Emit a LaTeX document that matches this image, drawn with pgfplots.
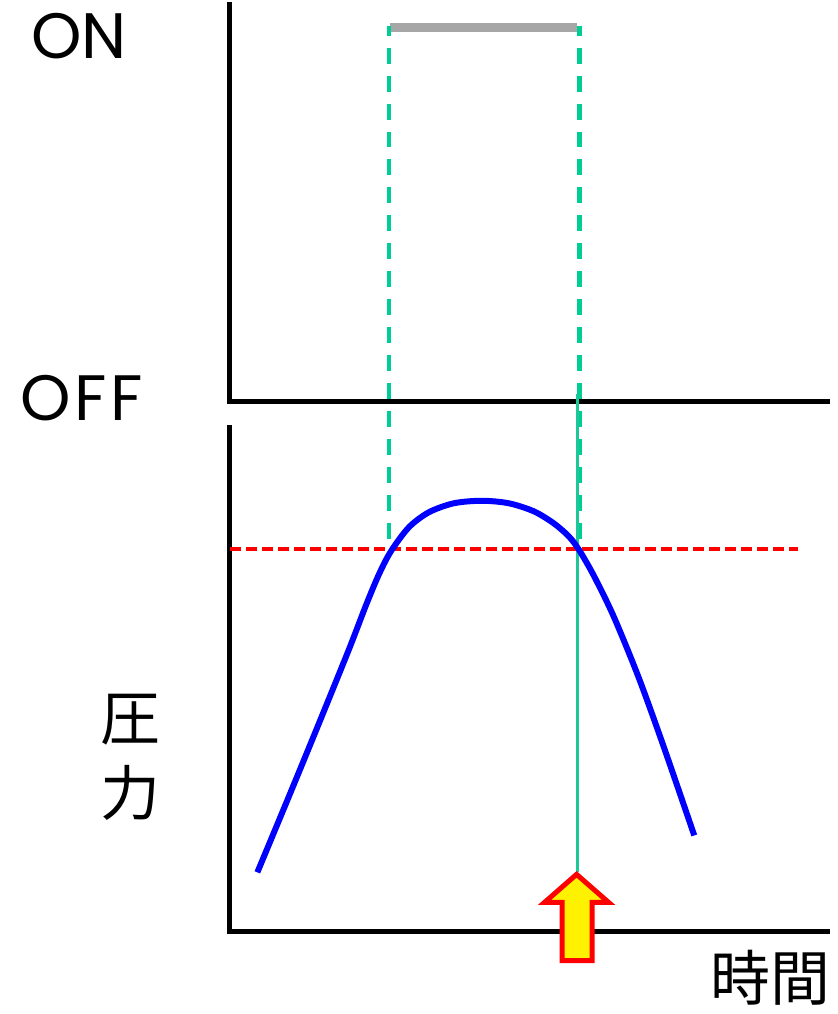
\documentclass[border=0pt]{standalone}
\usepackage{fontspec}
\setmainfont{Poppins}
\newfontfamily\widefont[LetterSpace=6]{Poppins}
\newfontfamily\cjk{Noto Sans CJK JP}
\usepackage{pgfplots}
\pgfplotsset{compat=1.18}
\definecolor{grn}{RGB}{0,205,150}
\definecolor{grnthin}{RGB}{30,200,150}
\definecolor{gry}{RGB}{166,166,166}
\begin{document}
\begin{tikzpicture}
\begin{axis}[hide axis, scale only axis, width=252pt, height=304.2pt,
  xmin=0, xmax=840, ymin=0, ymax=1014, y dir=reverse, clip=false]
% bounding
\addplot[draw=none] coordinates {(0,0) (840,1014)};
% axes lines
\addplot[black, line width=1.5pt] coordinates {(230.5,0) (230.5,399.5) (832,399.5)};
\addplot[black, line width=1.5pt] coordinates {(230,424) (230,931.5) (832,931.5)};
% gray ON line
\addplot[gry, line width=2.7pt] coordinates {(391,25.5) (578,25.5)};
% green dashed
\addplot[grn, line width=1.4pt, dash pattern=on 4.8pt off 3.6pt, dash phase=2pt] coordinates {(390,24) (390,548)};
\addplot[grn, line width=1.4pt, dash pattern=on 4.8pt off 3.6pt, dash phase=2pt] coordinates {(581,24) (581,548)};
\addplot[grnthin, line width=0.7pt] coordinates {(579,392) (579,872)};
% red dashed threshold
\addplot[red, line width=1.05pt, dash pattern=on 3.3pt off 1.5pt] coordinates {(231,548) (800,548)};
% pressure curve
\addplot[blue, line width=1.8pt, smooth, tension=0.5] coordinates {
(258,872) (290,795) (320,722) (350,648) (367,604) (380,573) (392,550) (410,526) (430,511) (455,502) (483,499.5) (510,502) (535,510) (555,522) (570,535) (580,548) (595,574) (615,615) (640,676) (665,745) (696,835)};
% arrow
\addplot[draw=red, fill=yellow, line width=1.5pt, line join=miter] coordinates {
(578,874) (610,902) (593.5,902) (593.5,960.5) (563.5,960.5) (563.5,902) (546,902) (578,874)} --cycle;
% labels
\node[font=\fontsize{19.3}{20}\selectfont] at (axis cs:79,34) {ON};
\node[font=\fontsize{19.3}{20}\widefont] at (axis cs:82,397) {OFF};
\node[font=\fontsize{18}{20}\cjk] at (axis cs:131,719) {圧};
\node[font=\fontsize{18}{20}\cjk] at (axis cs:131,792) {力};
\node[font=\fontsize{18}{20}\cjk, inner sep=0pt] at (axis cs:772,978) {時間};
\end{axis}
\end{tikzpicture}
\end{document}
